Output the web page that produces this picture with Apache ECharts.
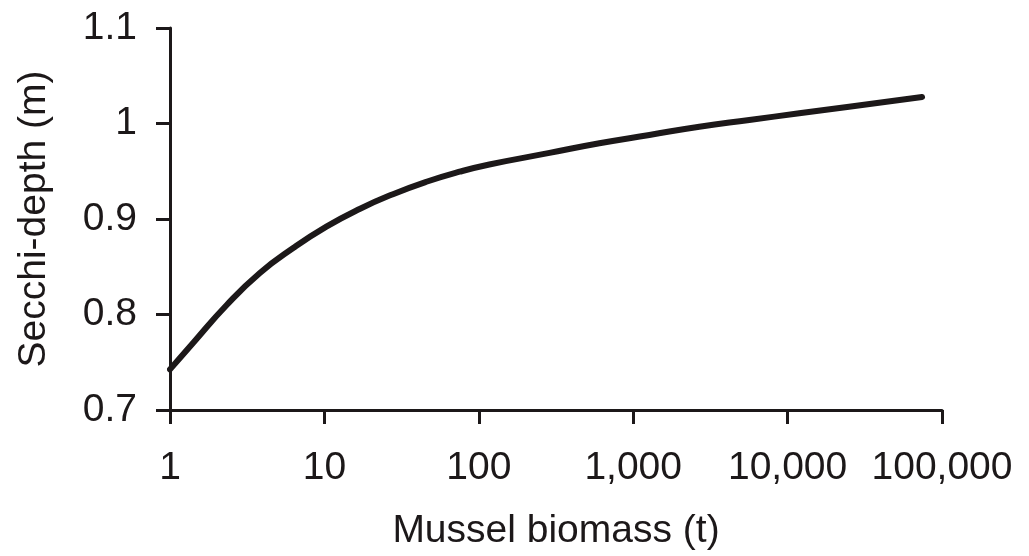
<!DOCTYPE html>
<html>
<head>
<meta charset="utf-8">
<script src="https://cdn.jsdelivr.net/npm/echarts@6/dist/echarts.min.js"></script>
<style>
html,body{margin:0;padding:0;background:#fff;}
#chart{width:1029px;height:556px;}
</style>
</head>
<body>
<div id="chart"></div>
<script>
// Mussel biomass (t), log scale
const biomass = [1, 1.415, 2.33, 3.82, 6.28, 10.3, 16.9, 27.8, 45.8, 75.1, 117, 287, 604, 1273, 2680, 5645, 11900, 25000, 74300];
// Secchi-depth (m)
const secchi = [0.7425, 0.7705, 0.810, 0.8435, 0.8696, 0.892, 0.9105, 0.926, 0.939, 0.9495, 0.9571, 0.9692, 0.9793, 0.988, 0.9966, 1.0037, 1.0107, 1.0176, 1.0277];
const yTicks = [0.7, 0.8, 0.9, 1, 1.1];

const ink = '#1c1819';
const font = 'Liberation Sans, Arial, sans-serif';
const fs = 39;
const chart = echarts.init(document.getElementById('chart'));
chart.setOption({
  backgroundColor: '#fff',
  animation: false,
  grid: {left: 170, right: 87, top: 28, bottom: 146, containLabel: false},
  xAxis: {
    type: 'log', logBase: 10, min: 1, max: 100000,
    name: 'Mussel biomass (t)', nameLocation: 'middle', nameGap: 102,
    nameTextStyle: {fontFamily: font, fontSize: fs, color: ink},
    axisLine: {show: true, lineStyle: {color: ink, width: 3}},
    axisTick: {show: true, inside: false, length: 14, lineStyle: {color: ink, width: 3}},
    axisLabel: {fontFamily: font, fontSize: fs, color: ink, margin: 39,
      formatter: v => Math.round(v).toLocaleString('en-US')},
    splitLine: {show: false}, minorTick: {show: false}
  },
  yAxis: {
    type: 'value', min: yTicks[0], max: yTicks[yTicks.length - 1], interval: 0.1,
    name: 'Secchi-depth (m)', nameLocation: 'middle', nameGap: 116, nameRotate: 90,
    nameTextStyle: {fontFamily: font, fontSize: fs, color: ink},
    axisLine: {show: true, lineStyle: {color: ink, width: 3}},
    axisTick: {show: true, inside: false, length: 14, lineStyle: {color: ink, width: 3}},
    axisLabel: {fontFamily: font, fontSize: fs, color: ink, margin: 33,
      formatter: v => String(Math.round(v * 10) / 10)},
    splitLine: {show: false}
  },
  series: [{
    type: 'line', smooth: 0.5, showSymbol: false,
    data: biomass.map((b, i) => [b, secchi[i]]),
    lineStyle: {color: ink, width: 6, cap: 'round', join: 'round'}
  }]
});
</script>
</body>
</html>
